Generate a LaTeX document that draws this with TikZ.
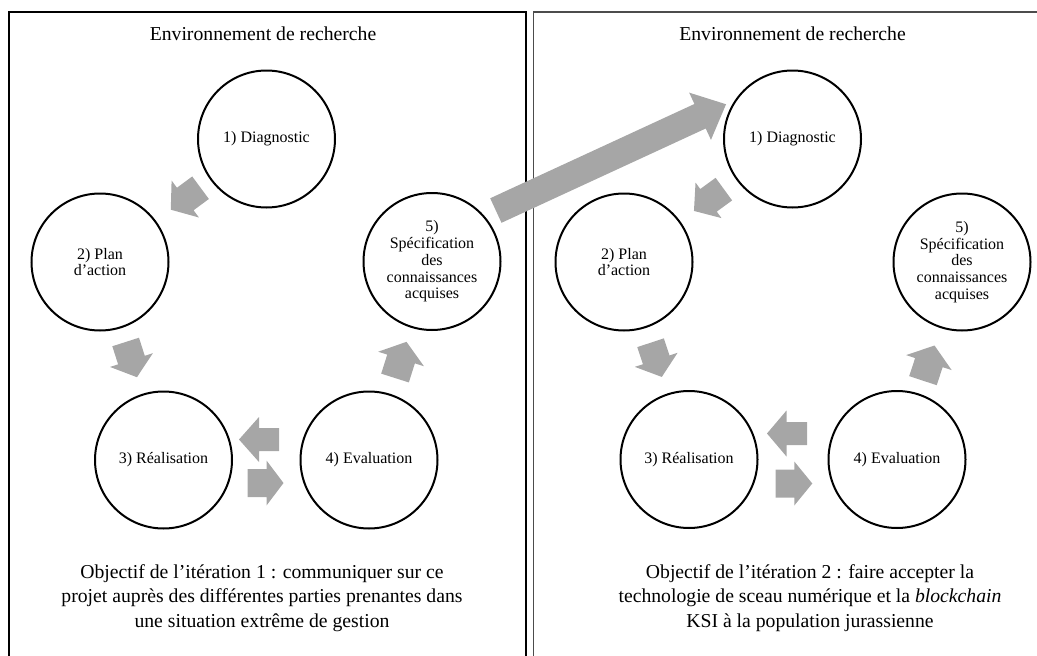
\documentclass[tikz,border=0pt]{standalone}
\usepackage{fontspec}
\setmainfont{Liberation Serif}
\usetikzlibrary{calc}
\definecolor{arrowgray}{RGB}{166,166,166}
% block arrow: tail, tip, body half width, head half width, head length
\newcommand{\blockarrow}[5]{%
    \coordinate (ba-s) at #1;
    \coordinate (ba-t) at #2;
    \coordinate (ba-b) at ($(ba-t)!#5!(ba-s)$);
    \fill[arrowgray] ($(ba-s)!#3!90:(ba-t)$) -- ($(ba-b)!#3!-90:(ba-s)$)
        -- ($(ba-b)!#4!-90:(ba-s)$) -- (ba-t) -- ($(ba-b)!#4!90:(ba-s)$)
        -- ($(ba-b)!#3!90:(ba-s)$) -- ($(ba-s)!#3!-90:(ba-t)$) -- cycle;
}

\begin{document}
\begin{tikzpicture}[x=1pt, y=-1pt,
    stage/.style={circle, draw, line width=2pt, minimum size=137pt, inner sep=0pt,
        align=center, font=\fontsize{16}{16.7}\selectfont},
    heading/.style={anchor=base, font=\fontsize{19.7}{25}\selectfont},
    goal/.style={align=center, font=\fontsize{19.7}{24.5}\selectfont}]
    \useasboundingbox (0,0) rectangle (1037,656);
    \clip (0,0) rectangle (1037,656);

    % Frames
    \draw[line width=2pt] (9,670) -- (9,12) -- (525.5,12) -- (525.5,670);
    \draw[line width=1.5pt, black!70] (533.5,670) -- (533.5,12) -- (1050,12);

    % Titles
    \foreach \x/\n in {263/L, 792.5/R}
        \node[heading] (title\n) at (\x,40) {Environnement de recherche};

    % First iteration
    \node[stage] (diagL) at (266.5,139) {1) Diagnostic};
    \node[stage] (planL) at (100,262) {2) Plan\\d’action};
    \node[stage] (realL) at (163.5,460) {3) Réalisation};
    \node[stage] (evalL) at (369,460) {4) Evaluation};
    \node[stage] (specL) at (432,261.5) {5)\\Spécification\\des\\connaissances\\acquises};

    % Second iteration
    \node[stage] (diagR) at (792.5,139) {1) Diagnostic};
    \node[stage] (planR) at (624,262) {2) Plan\\d’action};
    \node[stage] (realR) at (689,459.5) {3) Réalisation};
    \node[stage] (evalR) at (897,459.5) {4) Evaluation};
    \node[stage] (specR) at (962,262) {5)\\Spécification\\des\\connaissances\\acquises};

    % Cycle arrows, first iteration
    \blockarrow{($(diagL)!82pt!(planL)$)}{($(diagL)!119pt!(planL)$)}{14pt}{23pt}{18pt}
    \blockarrow{($(planL)!84pt!(realL)$)}{($(planL)!121pt!(realL)$)}{14pt}{22.5pt}{18pt}
    \blockarrow{($(evalL)!90pt!(realL)+(0,-20.5)$)}{($(evalL)!130pt!(realL)+(0,-20.5)$)}{11.5pt}{22.5pt}{20pt}
    \blockarrow{($(realL)!84pt!(evalL)+(0,23)$)}{($(realL)!120pt!(evalL)+(0,23)$)}{14pt}{22.5pt}{17pt}
    \blockarrow{($(evalL)!86pt!(specL)$)}{($(evalL)!124pt!(specL)$)}{14.5pt}{24pt}{18pt}

    % Cycle arrows, second iteration
    \blockarrow{($(diagR)!85pt!(planR)$)}{($(diagR)!122pt!(planR)$)}{14pt}{22pt}{18pt}
    \blockarrow{($(planR)!85pt!(realR)$)}{($(planR)!121pt!(realR)$)}{14pt}{22.5pt}{18pt}
    \blockarrow{($(evalR)!90pt!(realR)+(0,-26)$)}{($(evalR)!130pt!(realR)+(0,-26)$)}{11.5pt}{23pt}{19.5pt}
    \blockarrow{($(realR)!86.7pt!(evalR)+(0,24)$)}{($(realR)!123.3pt!(evalR)+(0,24)$)}{14pt}{22pt}{18pt}
    \blockarrow{($(evalR)!83pt!(specR)$)}{($(evalR)!120pt!(specR)$)}{14.5pt}{24pt}{18pt}

    % Link between iterations
    \blockarrow{($(specL)+(38.6:81.7pt)$)}{($(diagR)+(152.4:75pt)$)}{13.5pt}{26pt}{28.6pt}

    % Goals
    \node[goal] (goalL) at (262,598) {Objectif de l’itération 1 : communiquer sur ce\\projet auprès des différentes parties prenantes dans\\une situation extrême de gestion};
    \node[goal] (goalR) at (810,598) {Objectif de l’itération 2 : faire accepter la\\technologie de sceau numérique et la \textit{blockchain}\\KSI à la population jurassienne};
\end{tikzpicture}
\end{document}
